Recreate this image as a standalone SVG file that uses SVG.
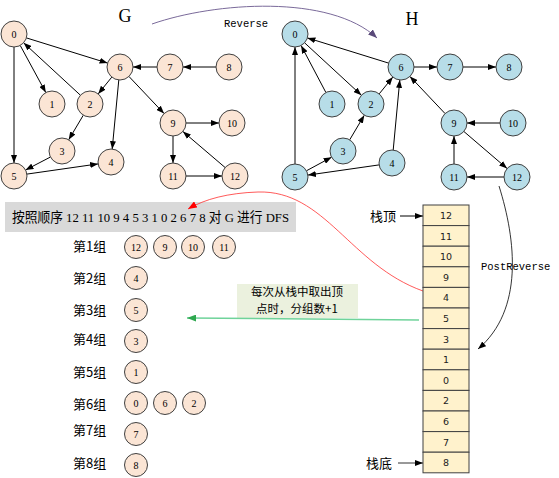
<svg xmlns="http://www.w3.org/2000/svg" width="559" height="478" viewBox="0 0 559 478">
<style>
.g circle{fill:#fbe5d5;stroke:#404040;stroke-width:1}
.h circle{fill:#b7dde8;stroke:#404040;stroke-width:1}
.n text{font-family:"Liberation Serif",serif;font-size:10px;text-anchor:middle;fill:#000}
.e line{stroke:#000;stroke-width:1;marker-end:url(#ah)}
.title{font-family:"Liberation Serif",serif;font-size:18px;text-anchor:middle}
.mono{font-family:"Liberation Mono",monospace;font-size:10.5px}
.cjk{font-family:"Noto Sans CJK SC",sans-serif;font-size:13px}
.cell rect{fill:#fff2cc;stroke:#404040;stroke-width:1}
.cell text{font-family:"DejaVu Sans",sans-serif;font-size:9.5px;text-anchor:middle;fill:#222}
</style>
<defs>
<marker id="ah" markerWidth="8" markerHeight="6" refX="8" refY="3" orient="auto" markerUnits="userSpaceOnUse"><path d="M0,0 L8,3 L0,6 z" fill="#000"/></marker>
<marker id="ahp" markerWidth="9" markerHeight="7" refX="9" refY="3.5" orient="auto" markerUnits="userSpaceOnUse"><path d="M0,0 L9,3.5 L0,7 z" fill="#5a4a7a"/></marker>
<marker id="ahr" markerWidth="9" markerHeight="7" refX="9" refY="3.5" orient="auto" markerUnits="userSpaceOnUse"><path d="M0,0 L9,3.5 L0,7 z" fill="#ff0000"/></marker>
<marker id="ahg" markerWidth="9" markerHeight="7" refX="9" refY="3.5" orient="auto" markerUnits="userSpaceOnUse"><path d="M0,0 L9,3.5 L0,7 z" fill="#2ea84f"/></marker>
</defs>

<text class="title" x="125" y="22">G</text>
<text class="title" x="412" y="25">H</text>

<g id="banner">
<rect x="5" y="202" width="291" height="30" fill="#d9d9d9"/>
<text x="12" y="222" font-family="Liberation Serif, Noto Sans CJK SC, serif" font-size="13.5" textLength="277" lengthAdjust="spacingAndGlyphs">按照顺序 12 11 10 9 4 5 3 1 0 2 6 7 8 对 G 进行 DFS</text>
</g>

<g id="note">
<rect x="237" y="284" width="121" height="34" fill="#ebf1de"/>
<text x="297" y="295.5" font-family="Noto Sans CJK SC, sans-serif" font-size="11.5" text-anchor="middle">每次从栈中取出顶</text>
<text x="297" y="312.5" font-family="Noto Sans CJK SC, sans-serif" font-size="11.5" text-anchor="middle">点时，分组数+1</text>
</g>

<g id="connectors">
<g class="e" id="g-edges">
<line x1="26.4" y1="37.9" x2="107.6" y2="63.1"/>
<line x1="20.2" y1="45.4" x2="45.8" y2="92.6"/>
<line x1="14" y1="47" x2="14" y2="163"/>
<line x1="80.4" y1="95.2" x2="23.6" y2="42.8"/>
<line x1="111.8" y1="77.1" x2="98.2" y2="93.9"/>
<line x1="118.8" y1="79.9" x2="112.2" y2="149.1"/>
<line x1="128.9" y1="76.4" x2="164.1" y2="113.6"/>
<line x1="157" y1="67" x2="133" y2="67"/>
<line x1="216" y1="67" x2="183" y2="67"/>
<line x1="83.3" y1="115.2" x2="68.7" y2="139.8"/>
<line x1="50.5" y1="157" x2="25.5" y2="170"/>
<line x1="26.9" y1="174.1" x2="98.1" y2="163.9"/>
<line x1="186" y1="123" x2="219" y2="123"/>
<line x1="173" y1="136" x2="173" y2="163"/>
<line x1="186" y1="176" x2="222" y2="176"/>
<line x1="225.1" y1="167.5" x2="182.9" y2="131.5"/>
</g>
<g class="e" id="h-edges">
<line x1="388.6" y1="63.1" x2="307.4" y2="37.9"/>
<line x1="325.9" y1="92.5" x2="301.1" y2="45.5"/>
<line x1="304.6" y1="42.8" x2="361.4" y2="95.2"/>
<line x1="379.2" y1="93.9" x2="392.8" y2="77.1"/>
<line x1="393.2" y1="150.1" x2="399.8" y2="79.9"/>
<line x1="445.1" y1="113.6" x2="409.9" y2="76.4"/>
<line x1="414" y1="67" x2="437" y2="67"/>
<line x1="463" y1="67" x2="496" y2="67"/>
<line x1="349.7" y1="139.8" x2="364.3" y2="115.2"/>
<line x1="306.4" y1="170.8" x2="331.6" y2="157.2"/>
<line x1="379.1" y1="164.9" x2="307.9" y2="175.1"/>
<line x1="295" y1="164" x2="295" y2="47"/>
<line x1="500" y1="123" x2="467" y2="123"/>
<line x1="454" y1="164" x2="454" y2="136"/>
<line x1="504" y1="177" x2="467" y2="177"/>
<line x1="463.9" y1="131.5" x2="507.1" y2="168.5"/>
</g>
<path id="reverse-arrow" d="M152,24 C215,2 330,-6 377,38" fill="none" stroke="#7a6a9a" stroke-width="1" marker-end="url(#ahp)"/>
<path id="postreverse-arrow" d="M499,186 C516,240 524,310 478,349" fill="none" stroke="#000" stroke-width="0.8" marker-end="url(#ah)"/>
<path id="red-arrow" d="M423,291 C350,265 325,190 258,192 C228,193 205,199 188,209" fill="none" stroke="#ff3030" stroke-width="0.8" marker-end="url(#ahr)"/>
<line id="green-arrow" x1="419" y1="320" x2="187" y2="318" stroke="#6fd39a" stroke-width="1.5" marker-end="url(#ahg)"/>
<line x1="400" y1="216" x2="423" y2="216" stroke="#000" stroke-width="1" marker-end="url(#ah)"/>
<line x1="398" y1="463" x2="423" y2="463" stroke="#333" stroke-width="1" marker-end="url(#ah)"/>
</g>

<text class="mono" x="224" y="27">Reverse</text>

<g class="n g">
<g id="g0"><circle cx="14" cy="34" r="13"/><text x="14" y="37.5">0</text></g>
<g id="g1"><circle cx="52" cy="104" r="13"/><text x="52" y="107.5">1</text></g>
<g id="g2"><circle cx="90" cy="104" r="13"/><text x="90" y="107.5">2</text></g>
<g id="g3"><circle cx="62" cy="151" r="13"/><text x="62" y="154.5">3</text></g>
<g id="g4"><circle cx="111" cy="162" r="13"/><text x="111" y="165.5">4</text></g>
<g id="g5"><circle cx="14" cy="176" r="13"/><text x="14" y="179.5">5</text></g>
<g id="g6"><circle cx="120" cy="67" r="13"/><text x="120" y="70.5">6</text></g>
<g id="g7"><circle cx="170" cy="67" r="13"/><text x="170" y="70.5">7</text></g>
<g id="g8"><circle cx="229" cy="67" r="13"/><text x="229" y="70.5">8</text></g>
<g id="g9"><circle cx="173" cy="123" r="13"/><text x="173" y="126.5">9</text></g>
<g id="g10"><circle cx="232" cy="123" r="13"/><text x="232" y="126.5">10</text></g>
<g id="g11"><circle cx="173" cy="176" r="13"/><text x="173" y="179.5">11</text></g>
<g id="g12"><circle cx="235" cy="176" r="13"/><text x="235" y="179.5">12</text></g>
</g>

<g class="n h">
<g id="h0"><circle cx="295" cy="34" r="13"/><text x="295" y="37.5">0</text></g>
<g id="h1"><circle cx="332" cy="104" r="13"/><text x="332" y="107.5">1</text></g>
<g id="h2"><circle cx="371" cy="104" r="13"/><text x="371" y="107.5">2</text></g>
<g id="h3"><circle cx="343" cy="151" r="13"/><text x="343" y="154.5">3</text></g>
<g id="h4"><circle cx="392" cy="163" r="13"/><text x="392" y="166.5">4</text></g>
<g id="h5"><circle cx="295" cy="177" r="13"/><text x="295" y="180.5">5</text></g>
<g id="h6"><circle cx="401" cy="67" r="13"/><text x="401" y="70.5">6</text></g>
<g id="h7"><circle cx="450" cy="67" r="13"/><text x="450" y="70.5">7</text></g>
<g id="h8"><circle cx="509" cy="67" r="13"/><text x="509" y="70.5">8</text></g>
<g id="h9"><circle cx="454" cy="123" r="13"/><text x="454" y="126.5">9</text></g>
<g id="h10"><circle cx="513" cy="123" r="13"/><text x="513" y="126.5">10</text></g>
<g id="h11"><circle cx="454" cy="177" r="13"/><text x="454" y="180.5">11</text></g>
<g id="h12"><circle cx="517" cy="177" r="13"/><text x="517" y="180.5">12</text></g>
</g>

<g id="groups">
<text class="cjk" x="73" y="251">第1组</text>
<text class="cjk" x="73" y="283">第2组</text>
<text class="cjk" x="73" y="315">第3组</text>
<text class="cjk" x="73" y="344">第4组</text>
<text class="cjk" x="73" y="377">第5组</text>
<text class="cjk" x="73" y="409">第6组</text>
<text class="cjk" x="73" y="435">第7组</text>
<text class="cjk" x="73" y="468">第8组</text>
</g>

<g class="n g">
<g id="s12"><circle cx="136" cy="247" r="11.5"/><text x="136" y="250.5">12</text></g>
<g id="s9"><circle cx="165" cy="247" r="11.5"/><text x="165" y="250.5">9</text></g>
<g id="s10"><circle cx="193" cy="247" r="11.5"/><text x="193" y="250.5">10</text></g>
<g id="s11"><circle cx="224" cy="247" r="11.5"/><text x="224" y="250.5">11</text></g>
<g id="s4"><circle cx="136" cy="278" r="11.5"/><text x="136" y="281.5">4</text></g>
<g id="s5"><circle cx="136" cy="310" r="11.5"/><text x="136" y="313.5">5</text></g>
<g id="s3"><circle cx="136" cy="341" r="11.5"/><text x="136" y="344.5">3</text></g>
<g id="s1"><circle cx="136" cy="372" r="11.5"/><text x="136" y="375.5">1</text></g>
<g id="s0"><circle cx="136" cy="403" r="11.5"/><text x="136" y="406.5">0</text></g>
<g id="s6"><circle cx="165" cy="403" r="11.5"/><text x="165" y="406.5">6</text></g>
<g id="s2"><circle cx="194" cy="403" r="11.5"/><text x="194" y="406.5">2</text></g>
<g id="s7"><circle cx="136" cy="434" r="11.5"/><text x="136" y="437.5">7</text></g>
<g id="s8"><circle cx="136" cy="465" r="11.5"/><text x="136" y="468.5">8</text></g>
</g>

<g id="stack" class="cell">
<rect x="423" y="205" width="46" height="20.6"/><text x="446" y="219">12</text>
<rect x="423" y="225.6" width="46" height="20.6"/><text x="446" y="239.6">11</text>
<rect x="423" y="246.2" width="46" height="20.6"/><text x="446" y="260.2">10</text>
<rect x="423" y="266.8" width="46" height="20.6"/><text x="446" y="280.8">9</text>
<rect x="423" y="287.4" width="46" height="20.6"/><text x="446" y="301.4">4</text>
<rect x="423" y="308" width="46" height="20.6"/><text x="446" y="322">5</text>
<rect x="423" y="328.6" width="46" height="20.6"/><text x="446" y="342.6">3</text>
<rect x="423" y="349.2" width="46" height="20.6"/><text x="446" y="363.2">1</text>
<rect x="423" y="369.8" width="46" height="20.6"/><text x="446" y="383.8">0</text>
<rect x="423" y="390.4" width="46" height="20.6"/><text x="446" y="404.4">2</text>
<rect x="423" y="411" width="46" height="20.6"/><text x="446" y="425">6</text>
<rect x="423" y="431.6" width="46" height="20.6"/><text x="446" y="445.6">7</text>
<rect x="423" y="452.2" width="46" height="20.6"/><text x="446" y="466.2">8</text>
</g>

<text class="cjk" x="370" y="221">栈顶</text>
<text class="cjk" x="366" y="468">栈底</text>
<text class="mono" x="481" y="270">PostReverse</text>
</svg>
